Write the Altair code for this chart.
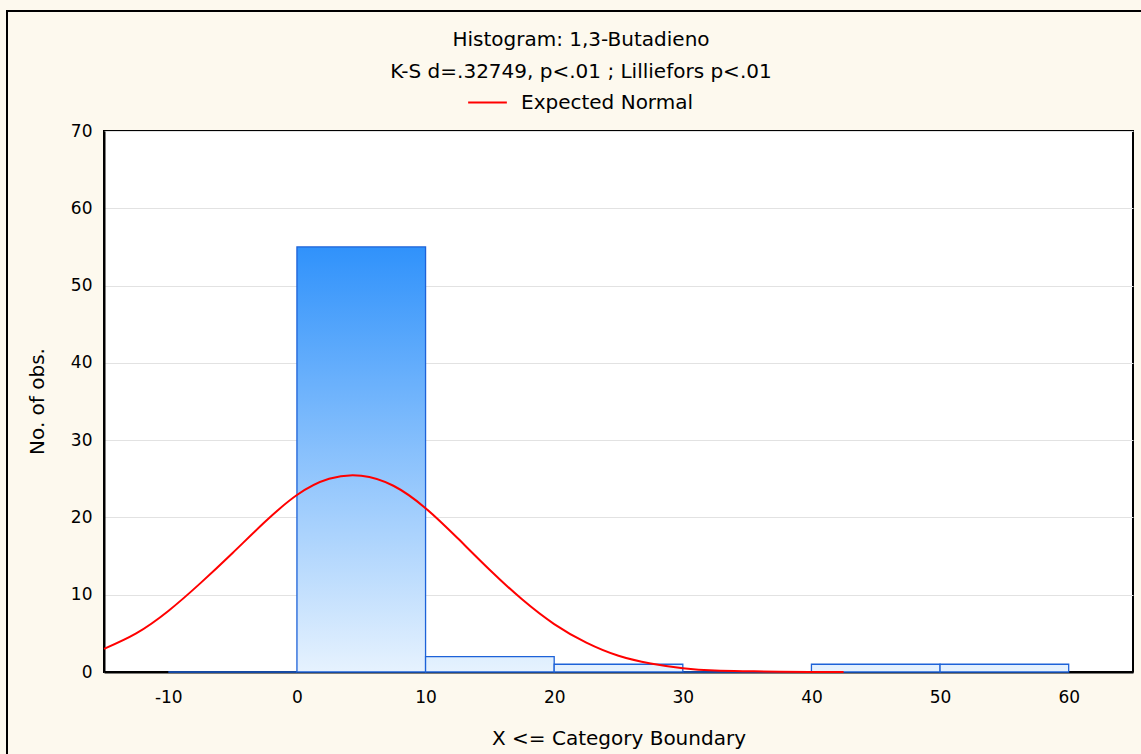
import altair as alt
import pandas as pd

# ---- data ----
bin_start = [-10, 0, 10, 20, 30, 40, 50]
bin_end = [0, 10, 20, 30, 40, 50, 60]
counts = [0, 55, 2, 1, 0, 1, 1]

curve_x = [-15, -12.5, -10, -7.5, -5, -2.5, 0, 2.5, 5, 7.5, 10, 12.5, 15,
           17.5, 20, 22.5, 25, 27.5, 30, 32.5, 35, 37.5, 40, 42.5]
curve_y = [3.0, 5.0, 7.9, 11.5, 15.4, 19.4, 22.9, 25.0, 25.4, 24.1, 21.2,
           17.3, 13.2, 9.4, 6.2, 3.8, 2.1, 1.1, 0.5, 0.2, 0.1, 0.03, 0.01, 0.0]

x_ticks = [-10, 0, 10, 20, 30, 40, 50, 60]
y_ticks = [0, 10, 20, 30, 40, 50, 60, 70]

title_lines = ["Histogram: 1,3-Butadieno", "K-S d=.32749, p<.01 ; Lilliefors p<.01"]
legend_label = "Expected Normal"
x_title = "X <= Category Boundary"
y_title = "No. of obs."

FONT = "DejaVu Sans"
LIGHT = (230, 242, 254)
DARK = (48, 146, 251)

bars = pd.DataFrame({"start": bin_start, "end": bin_end, "count": counts})
curve = pd.DataFrame({"cx": curve_x, "cy": curve_y, "series": [legend_label] * len(curve_x)})

x_scale = alt.Scale(domain=[-15, 65], nice=False, zero=False)
y_scale = alt.Scale(domain=[0, 70], nice=False)

x_axis = alt.Axis(values=x_ticks, grid=False, ticks=False, labelPadding=17,
                  labelExpr="'' + datum.value",
                  title=x_title, titleY=66, titleBaseline="middle")
y_axis = alt.Axis(values=y_ticks, grid=True, gridColor="#e2e2e2", gridWidth=1.2,
                  ticks=False, labelPadding=12, title=y_title, titleX=-67,
                  titleY=270, titleBaseline="middle", titleAngle=270)

peak = max(counts)


def hexc(rgb):
    return "#%02x%02x%02x" % tuple(int(round(v)) for v in rgb)


def lerp(t):
    return hexc([LIGHT[i] + (DARK[i] - LIGHT[i]) * t for i in range(3)])


layers = []
for i, c in enumerate(counts):
    top = lerp(c / peak if peak else 0)
    grad = alt.Gradient(
        gradient="linear",
        stops=[alt.GradientStop(color=top, offset=0),
               alt.GradientStop(color=lerp(0), offset=1)],
        x1=1, x2=1, y1=0, y2=1,
    )
    layer = (
        alt.Chart(bars)
        .transform_filter(alt.datum.start == bin_start[i])
        .mark_rect(fill=grad, stroke="#1d62d8", strokeWidth=1.3)
        .encode(
            x=alt.X("start:Q", scale=x_scale, axis=x_axis, title=x_title),
            x2="end:Q",
            y=alt.Y("count:Q", scale=y_scale, axis=y_axis, title=y_title),
            y2=alt.datum(0),
        )
    )
    layers.append(layer)

line = (
    alt.Chart(curve)
    .mark_line(strokeWidth=2, interpolate="natural")
    .encode(
        x=alt.X("cx:Q", scale=x_scale, axis=x_axis, title=x_title),
        y=alt.Y("cy:Q", scale=y_scale, axis=y_axis, title=y_title),
        color=alt.Color(
            "series:N",
            scale=alt.Scale(domain=[legend_label], range=["#ff0000"]),
            legend=alt.Legend(title=None, orient="none", legendX=363, legendY=-49,
                              symbolType="stroke", symbolStrokeWidth=2,
                              symbolSize=1500, labelFont=FONT, labelFontSize=20,
                              labelColor="black", labelOffset=13, padding=0,
                              labelLimit=400),
        ),
    )
)
layers.append(line)

# title lines as text
for j, (txt, ypos) in enumerate(zip(title_lines, [-91, -59])):
    t = (
        alt.Chart(pd.DataFrame({"t": [txt]}))
        .mark_text(font=FONT, fontSize=20, color="black", align="center",
                   baseline="middle", clip=False)
        .encode(text="t:N", x=alt.value(477), y=alt.value(ypos))
    )
    layers.append(t)

frame = (
    alt.Chart(pd.DataFrame({"k": [0]}))
    .mark_rect(fill="transparent", stroke="black", strokeWidth=2, clip=False)
    .encode(x=alt.value(-97), x2=alt.value(1100), y=alt.value(-120), y2=alt.value(700))
)
layers.append(frame)

chart = (
    alt.layer(*layers)
    .properties(
        width=1029,
        height=541,
        autosize=alt.AutoSizeParams(type="none"),
        padding={"left": 104, "top": 131, "right": 8, "bottom": 82},
        background="#fdf9ee",
    )
    .configure_view(fill="white", stroke="black", strokeWidth=2)
    .configure_axis(
        labelFont=FONT, labelFontSize=17, labelColor="black",
        titleFont=FONT, titleFontSize=20, titleFontWeight="normal", titleColor="black",
        domainColor="black", domainWidth=2,
    )
)

chart.save("out.html", embed_options={"renderer": "svg", "actions": False})
